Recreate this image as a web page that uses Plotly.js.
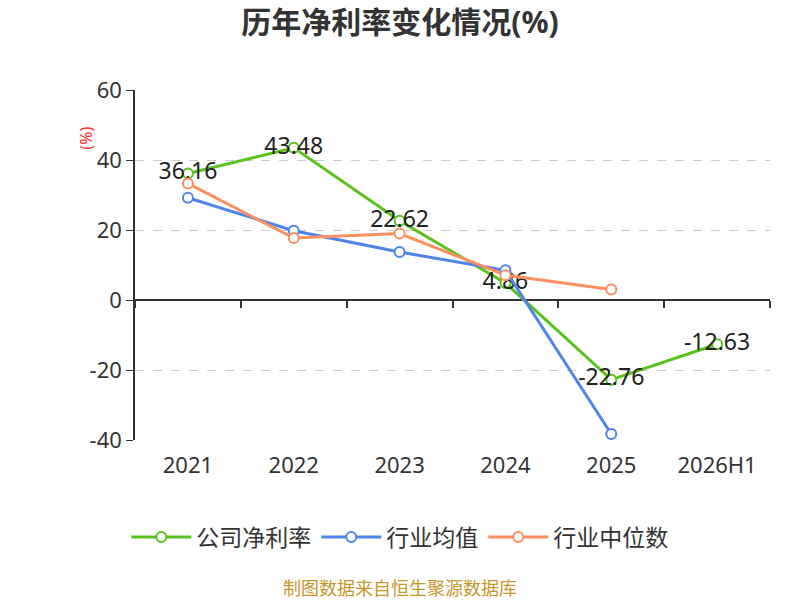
<!DOCTYPE html>
<html>
<head>
<meta charset="utf-8">
<script src="https://cdn.plot.ly/plotly-3.0.1.min.js"></script>
<style>body{margin:0;}#myDiv{width:800px;height:600px;}</style>
</head>
<body>
<div id="myDiv"></div>
<script>
var years = ['2021', '2022', '2023', '2024', '2025', '2026H1'];
var company = [36.16, 43.48, 22.62, 4.86, -22.76, -12.63];
var industryAvg = [29.2, 19.8, 13.7, 8.5, -38.3];
var industryMedian = [33.3, 17.7, 19.0, 7.1, 3.0];
var yTicks = [-40, -20, 0, 20, 40, 60];
var yTickText = ['-40', '-20', '0', '20', '40', '60'];

var font = 'Noto Sans, Noto Sans CJK SC, sans-serif';

var trace1 = {
  x: years,
  y: company,
  name: '公司净利率',
  type: 'scatter',
  mode: 'lines+markers+text',
  text: company.map(function (v) { return v.toFixed(2); }),
  textposition: 'middle center',
  textfont: {size: 23, color: '#222', family: font},
  line: {color: '#5ac21f', width: 3},
  marker: {symbol: 'circle', size: 10, color: '#fff', line: {color: '#5ac21f', width: 2}},
  cliponaxis: false
};

var trace2 = {
  x: years.slice(0, 5),
  y: industryAvg,
  name: '行业均值',
  type: 'scatter',
  mode: 'lines+markers',
  line: {color: '#4f84e8', width: 3},
  marker: {symbol: 'circle', size: 10, color: '#fff', line: {color: '#4f84e8', width: 2}},
  cliponaxis: false
};

var trace3 = {
  x: years.slice(0, 5),
  y: industryMedian,
  xaxis: 'x2',
  name: '行业中位数',
  type: 'scatter',
  mode: 'lines+markers',
  line: {color: '#fc8f5f', width: 3},
  marker: {symbol: 'circle', size: 10, color: '#fff', line: {color: '#fc8f5f', width: 2}},
  cliponaxis: false
};

var data = [trace1, trace2, trace3];

var layout = {
  width: 800,
  height: 600,
  margin: {l: 135, r: 30, t: 90, b: 160},
  paper_bgcolor: '#fff',
  plot_bgcolor: '#fff',
  font: {family: font, color: '#333'},
  title: {
    text: '<b>历年净利率变化情况(%)</b>',
    font: {size: 30, color: '#333', family: font},
    x: 0.5, xref: 'container', xanchor: 'center',
    y: 0.963, yref: 'container', yanchor: 'middle'
  },
  xaxis: {
    type: 'category',
    categoryorder: 'array',
    categoryarray: years,
    range: [-0.5, 5.5],
    showgrid: false,
    showline: false,
    zeroline: false,
    ticks: '',
    ticklabelstandoff: 10,
    tickfont: {size: 22, color: '#333'},
    fixedrange: true
  },
  xaxis2: {
    type: 'category',
    categoryorder: 'array',
    categoryarray: years,
    overlaying: 'x',
    anchor: 'free',
    position: 0.4,
    range: [-0.5, 5.5],
    tickson: 'boundaries',
    ticks: 'outside',
    ticklen: 7,
    tickcolor: '#333',
    tickwidth: 1.5,
    showticklabels: false,
    showgrid: false,
    showline: false,
    zeroline: false,
    fixedrange: true
  },
  yaxis: {
    range: [-40, 60],
    tickvals: yTicks,
    ticktext: yTickText,
    showgrid: true,
    gridcolor: '#cccccc',
    griddash: 'dash',
    gridwidth: 1,
    zeroline: true,
    zerolinecolor: '#333',
    zerolinewidth: 1.5,
    showline: true,
    linecolor: '#333',
    linewidth: 1.5,
    ticks: 'outside',
    ticklen: 7,
    tickcolor: '#333',
    tickfont: {size: 22, color: '#333'},
    fixedrange: true
  },
  showlegend: true,
  legend: {
    orientation: 'h',
    x: 0.417, xanchor: 'center',
    y: -0.277, yanchor: 'middle',
    font: {size: 23, color: '#333'},
    itemwidth: 60
  },
  annotations: [
    {
      text: '(%)', xref: 'paper', yref: 'paper',
      x: -0.099, y: 0.9, textangle: -90, showarrow: false,
      font: {size: 16, color: '#ff3333'}
    },
    {
      text: '制图数据来自恒生聚源数据库', xref: 'paper', yref: 'paper',
      x: 0.417, y: -0.423, xanchor: 'center', yanchor: 'middle', showarrow: false,
      font: {size: 18, color: '#c8962e'}
    }
  ]
};

Plotly.newPlot('myDiv', data, layout, {displayModeBar: false});
</script>
</body>
</html>
